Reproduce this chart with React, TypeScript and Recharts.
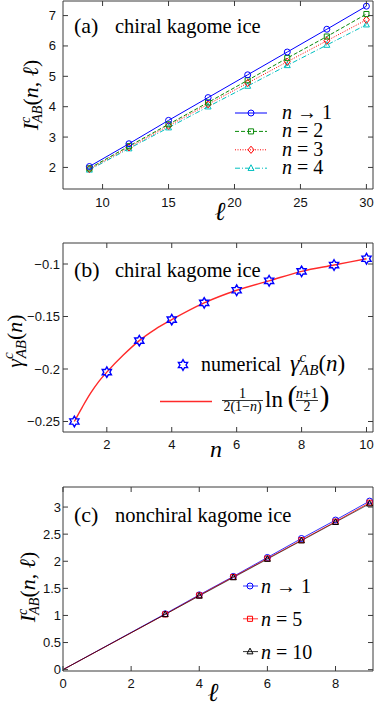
import React from 'react';
import { LineChart, Line, XAxis, YAxis, ComposedChart, Scatter } from 'recharts';

// (a) chiral kagome ice, I^c_AB(n, l) vs l
const lenA = [9, 12, 15, 18, 21, 24, 27, 30];
const aN1 = [2.03, 2.78, 3.55, 4.3, 5.05, 5.8, 6.55, 7.31];
const aN2 = [1.97, 2.7, 3.42, 4.14, 4.87, 5.6, 6.31, 7.05];
const aN3 = [1.95, 2.66, 3.37, 4.08, 4.78, 5.48, 6.17, 6.86];
const aN4 = [1.92, 2.62, 3.31, 4.0, 4.68, 5.36, 6.03, 6.7];
const aXTicks = [10, 15, 20, 25, 30];
const aYTicks = [2, 3, 4, 5, 6, 7];

// (b) gamma^c_AB(n)
const nVals = [1, 2, 3, 4, 5, 6, 7, 8, 9, 10];
const gammaNum = [-0.25, -0.203, -0.173, -0.153, -0.137, -0.125, -0.116, -0.107, -0.101, -0.095];
const curveN = [1, 1.25, 1.5, 1.75, 2, 2.5, 3, 3.5, 4, 5, 6, 7, 8, 9, 10];
const curveG = [-0.25, -0.236, -0.223, -0.212, -0.203, -0.187, -0.173, -0.162, -0.153, -0.137, -0.125, -0.116, -0.107, -0.101, -0.095];
const bXTicks = [2, 4, 6, 8, 10];
const bYTicks = [-0.25, -0.2, -0.15, -0.1];

// (c) nonchiral kagome ice
const lenC = [0, 3, 4, 5, 6, 7, 8, 9];
const cN1 = [0, 1.03, 1.38, 1.72, 2.07, 2.42, 2.76, 3.11];
const cN5 = [0, 1.02, 1.37, 1.71, 2.05, 2.39, 2.73, 3.08];
const cN10 = [0, 1.02, 1.36, 1.7, 2.04, 2.38, 2.72, 3.06];
const cXTicks = [0, 2, 4, 6, 8];
const cYTicks = [0, 0.5, 1, 1.5, 2, 2.5, 3];

const dataA = lenA.map((l, i) => ({ l, n1: aN1[i], n2: aN2[i], n3: aN3[i], n4: aN4[i] }));
const dataC = lenC.map((l, i) => ({ l, n1: cN1[i], n5: cN5[i], n10: cN10[i] }));
const numData = nVals.map((x, i) => ({ x, y: gammaNum[i] }));
const curveData = curveN.map((x, i) => ({ x, y: curveG[i] }));

const AXIS = '#3a3a3a';
const TL = 5;
const SANS = 'Liberation Sans, Arial, sans-serif';
const SERIF = 'Liberation Serif, Times New Roman, serif';
const BLUE = '#0000ff';
const GREEN = '#0a8a0a';
const RED = '#ff0000';
const CYAN = '#00bfbf';

const fmt = (v: number) => (v < 0 ? '\u2212' + Math.abs(v) : String(v));

type Side = 'bottom' | 'top' | 'left' | 'right';
// ly: gap from axis to bottom label baseline, lx: gap from axis to end of left label
const tick = (side: Side, ly = 17, lx = 7) => (p: any) => {
  const { x, y } = p;
  const v = p.payload.value;
  let line;
  if (side === 'bottom') line = <line x1={x} x2={x} y1={y} y2={y - TL} stroke={AXIS} />;
  else if (side === 'top') line = <line x1={x} x2={x} y1={y} y2={y + TL} stroke={AXIS} />;
  else if (side === 'left') line = <line x1={x} x2={x + TL} y1={y} y2={y} stroke={AXIS} />;
  else line = <line x1={x} x2={x - TL} y1={y} y2={y} stroke={AXIS} />;
  return (
    <g key={`${side}-${v}`}>
      {line}
      {side === 'bottom' && (
        <text x={x} y={y + ly} textAnchor="middle" fontSize={13} fontFamily={SANS} fill="#111">{fmt(v)}</text>
      )}
      {side === 'left' && (
        <text x={x - lx} y={y + 4.5} textAnchor="end" fontSize={13} fontFamily={SANS} fill="#111">{fmt(v)}</text>
      )}
    </g>
  );
};

type Shape = 'circle' | 'square' | 'diamond' | 'triangle' | 'hexagram';
function markerPath(shape: Shape, cx: number, cy: number, r: number) {
  if (shape === 'diamond') return `M${cx},${cy - r * 1.2}L${cx + r},${cy}L${cx},${cy + r * 1.2}L${cx - r},${cy}Z`;
  if (shape === 'triangle') return `M${cx},${cy - r * 1.15}L${cx + r},${cy + r * 0.75}L${cx - r},${cy + r * 0.75}Z`;
  if (shape === 'square') return `M${cx - r * 0.85},${cy - r * 0.85}h${r * 1.7}v${r * 1.7}h${-r * 1.7}Z`;
  if (shape === 'hexagram') {
    let d = '';
    for (let k = 0; k < 12; k++) {
      const a = ((-90 + 30 * k) * Math.PI) / 180;
      const rr = k % 2 === 0 ? r : r / Math.sqrt(3);
      d += `${k === 0 ? 'M' : 'L'}${cx + rr * Math.cos(a)},${cy + rr * Math.sin(a)}`;
    }
    return d + 'Z';
  }
  return `M${cx - r},${cy}a${r},${r} 0 1,0 ${2 * r},0a${r},${r} 0 1,0 ${-2 * r},0`;
}

function Marker({ shape, cx, cy, color, r = 3, sw = 1 }: any) {
  return <path d={markerPath(shape, cx, cy, r)} fill="none" stroke={color} strokeWidth={sw} />;
}

const dotFor = (shape: Shape, color: string, r = 3, skipFirst = false) => (p: any) => {
  if (p.cx == null || (skipFirst && p.index === 0)) return <g key={`d-${p.index}`} />;
  return <Marker key={`d-${p.index}`} shape={shape} cx={p.cx} cy={p.cy} color={color} r={r} />;
};

// box with inward ticks on all four sides; axes are 1px so they still render
function Axes({ xd, yd, xt, yt, xKey, ly, lx }: any) {
  return [
    <XAxis key="xb" xAxisId={0} type="number" dataKey={xKey} domain={xd} ticks={xt} interval={0} allowDataOverflow height={1} tickSize={0} tickMargin={0} axisLine={{ stroke: AXIS }} tickLine={false} tick={tick('bottom', ly, lx)} />,
    <XAxis key="xt" xAxisId="top" orientation="top" type="number" dataKey={xKey} domain={xd} ticks={xt} interval={0} allowDataOverflow height={1} tickSize={0} tickMargin={0} axisLine={{ stroke: AXIS }} tickLine={false} tick={tick('top')} />,
    <YAxis key="yl" yAxisId={0} type="number" domain={yd} ticks={yt} interval={0} allowDataOverflow width={1} tickSize={0} tickMargin={0} axisLine={{ stroke: AXIS }} tickLine={false} tick={tick('left', ly, lx)} />,
    <YAxis key="yr" yAxisId="right" orientation="right" type="number" domain={yd} ticks={yt} interval={0} allowDataOverflow width={1} tickSize={0} tickMargin={0} axisLine={{ stroke: AXIS }} tickLine={false} tick={tick('right')} />,
  ];
}

function IcabLabel({ x, y }: { x: number; y: number }) {
  return (
    <text transform={`translate(${x},${y}) rotate(-90)`} textAnchor="middle" fontFamily={SERIF} fontSize={22} fill="#000">
      <tspan fontStyle="italic">I</tspan>
      <tspan fontStyle="italic" fontSize={14} dy={-8}>c</tspan>
      <tspan fontStyle="italic" fontSize={14} dx={-6} dy={12}>AB</tspan>
      <tspan dy={-4}>(</tspan>
      <tspan fontStyle="italic">n</tspan>
      <tspan>, </tspan>
      <tspan fontStyle="italic">{'\u2113'}</tspan>
      <tspan>)</tspan>
    </text>
  );
}

function NLabel({ x, y, rhs }: { x: number; y: number; rhs: string }) {
  return (
    <text x={x} y={y} fontFamily={SERIF} fontSize={20} fill="#000">
      <tspan fontStyle="italic">n</tspan>
      <tspan>{rhs}</tspan>
    </text>
  );
}

export default function App() {
  const legA = [
    { shape: 'circle' as Shape, color: BLUE, dash: undefined, rhs: ' \u2192 1' },
    { shape: 'square' as Shape, color: GREEN, dash: '4 2', rhs: ' = 2' },
    { shape: 'diamond' as Shape, color: RED, dash: '1 1.5', rhs: ' = 3' },
    { shape: 'triangle' as Shape, color: CYAN, dash: '5 2 1 2', rhs: ' = 4' },
  ];
  const legC = [
    { shape: 'circle' as Shape, color: BLUE, rhs: ' \u2192 1' },
    { shape: 'square' as Shape, color: RED, rhs: ' = 5' },
    { shape: 'triangle' as Shape, color: '#000', rhs: ' = 10' },
  ];
  return (
    <div style={{ position: 'absolute', left: 0, top: 0, width: 374, height: 707, background: '#fff', overflow: 'hidden' }}>
      <div style={{ position: 'absolute', left: 0, top: 0 }}>
        <LineChart width={374} height={235} data={dataA} margin={{ top: 0, right: 0, bottom: 45, left: 62 }}>
          {Axes({ xd: [7, 30.5], yd: [1.29, 7.48], xt: aXTicks, yt: aYTicks, xKey: 'l', ly: 18, lx: 7 })}
          <Line dataKey="n4" stroke={CYAN} strokeWidth={1} strokeDasharray="5 2 1 2" dot={dotFor('triangle', CYAN)} isAnimationActive={false} />
          <Line dataKey="n3" stroke={RED} strokeWidth={1} strokeDasharray="1 1.5" dot={dotFor('diamond', RED)} isAnimationActive={false} />
          <Line dataKey="n2" stroke={GREEN} strokeWidth={1} strokeDasharray="4 2" dot={dotFor('square', GREEN)} isAnimationActive={false} />
          <Line dataKey="n1" stroke={BLUE} strokeWidth={1} dot={dotFor('circle', BLUE)} isAnimationActive={false} />
        </LineChart>
      </div>
      <div style={{ position: 'absolute', left: 0, top: 235 }}>
        <ComposedChart width={374} height={225} margin={{ top: 7, right: 0, bottom: 27, left: 62 }}>
          {Axes({ xd: [0.65, 10.2], yd: [-0.26, -0.08], xt: bXTicks, yt: bYTicks, xKey: 'x', ly: 16.5, lx: 3 })}
          <Line data={curveData} dataKey="y" type="monotone" stroke="#ff2a2a" strokeWidth={1.4} dot={false} isAnimationActive={false} />
          <Scatter data={numData} dataKey="y" shape={(p: any) => <Marker shape="hexagram" cx={p.cx} cy={p.cy} color={BLUE} r={5.3} sw={1.4} />} isAnimationActive={false} />
        </ComposedChart>
      </div>
      <div style={{ position: 'absolute', left: 0, top: 460 }}>
        <LineChart width={374} height={247} data={dataC} margin={{ top: 26, right: 0, bottom: 35, left: 62 }}>
          {Axes({ xd: [0, 9.1], yd: [-0.025, 3.37], xt: cXTicks, yt: cYTicks, xKey: 'l', ly: 16.5, lx: 2 })}
          <Line dataKey="n1" stroke={BLUE} strokeWidth={0.8} dot={dotFor('circle', BLUE, 3, true)} isAnimationActive={false} />
          <Line dataKey="n5" stroke={RED} strokeWidth={0.8} dot={dotFor('square', RED, 3, true)} isAnimationActive={false} />
          <Line dataKey="n10" stroke="#000" strokeWidth={0.6} dot={dotFor('triangle', '#000', 3, true)} isAnimationActive={false} />
        </LineChart>
      </div>

      <svg width={374} height={707} style={{ position: 'absolute', left: 0, top: 0, pointerEvents: 'none' }}>
        {/* panel (a) */}
        <text x={74} y={33} fontFamily={SERIF} fontSize={22}>(a)</text>
        <text x={115} y={33} fontFamily={SERIF} fontSize={20.5}>chiral kagome ice</text>
        <IcabLabel x={38} y={95} />
        <text x={220} y={220} textAnchor="middle" fontFamily={SERIF} fontStyle="italic" fontSize={26}>{'\u2113'}</text>
        {legA.map((e, i) => {
          const y = 113 + i * 18.4;
          return (
            <g key={i}>
              <line x1={235} x2={267} y1={y} y2={y} stroke={e.color} strokeDasharray={e.dash} />
              <Marker shape={e.shape} cx={251} cy={y} color={e.color} />
              <NLabel x={282} y={y + 6} rhs={e.rhs} />
            </g>
          );
        })}

        {/* panel (b) */}
        <text x={74} y={277} fontFamily={SERIF} fontSize={22}>(b)</text>
        <text x={115} y={277} fontFamily={SERIF} fontSize={20.5}>chiral kagome ice</text>
        <text transform="translate(22,341) rotate(-90)" textAnchor="middle" fontFamily={SERIF} fontSize={22}>
          <tspan fontStyle="italic">{'\u03b3'}</tspan>
          <tspan fontStyle="italic" fontSize={15} dy={-9}>c</tspan>
          <tspan fontStyle="italic" fontSize={15} dx={-6} dy={13}>AB</tspan>
          <tspan dy={-4}>(</tspan>
          <tspan fontStyle="italic">n</tspan>
          <tspan>)</tspan>
        </text>
        <text x={216} y={457} textAnchor="middle" fontFamily={SERIF} fontStyle="italic" fontSize={24}>n</text>
        <Marker shape="hexagram" cx={183} cy={365} color={BLUE} r={5.3} sw={1.4} />
        <text x={201} y={371} fontFamily={SERIF} fontSize={20}>
          <tspan>numerical</tspan>
          <tspan dx={9} fontStyle="italic" fontSize={24}>{'\u03b3'}</tspan>
          <tspan fontStyle="italic" fontSize={15} dy={-9}>c</tspan>
          <tspan fontStyle="italic" fontSize={15} dx={-6} dy={13}>AB</tspan>
          <tspan dy={-4} fontSize={23}>(</tspan>
          <tspan fontStyle="italic" fontSize={23}>n</tspan>
          <tspan fontSize={23}>)</tspan>
        </text>
        <line x1={160} x2={212} y1={401.5} y2={401.5} stroke="#ff2a2a" strokeWidth={1.4} />
        <g fontFamily={SERIF} fill="#000">
          <text x={242.5} y={398} textAnchor="middle" fontSize={14}>1</text>
          <line x1={222} x2={263} y1={400.5} y2={400.5} stroke="#000" strokeWidth={0.8} />
          <text x={242.5} y={411} textAnchor="middle" fontSize={14}>
            <tspan>2(1</tspan>
            <tspan>{'\u2212'}</tspan>
            <tspan fontStyle="italic">n</tspan>
            <tspan>)</tspan>
          </text>
          <text x={265} y={406.5} fontSize={23}>ln</text>
          <text x={287.5} y={406} fontSize={30}>(</text>
          <text x={307} y={398} textAnchor="middle" fontSize={14}>
            <tspan fontStyle="italic">n</tspan>
            <tspan>+1</tspan>
          </text>
          <line x1={296} x2={318} y1={400.5} y2={400.5} stroke="#000" strokeWidth={0.8} />
          <text x={307} y={411} textAnchor="middle" fontSize={14}>2</text>
          <text x={319.5} y={406} fontSize={30}>)</text>
        </g>

        {/* panel (c) */}
        <text x={74} y={522} fontFamily={SERIF} fontSize={22}>(c)</text>
        <text x={115} y={522} fontFamily={SERIF} fontSize={20.5}>nonchiral kagome ice</text>
        <IcabLabel x={35} y={587} />
        <text x={213} y={701} textAnchor="middle" fontFamily={SERIF} fontStyle="italic" fontSize={26}>{'\u2113'}</text>
        {legC.map((e, i) => {
          const y = 586 + i * 32.8;
          return (
            <g key={i}>
              <line x1={243} x2={258} y1={y} y2={y} stroke={e.color} strokeWidth={0.8} />
              <Marker shape={e.shape} cx={250} cy={y} color={e.color} />
              <NLabel x={261} y={y + 7} rhs={e.rhs} />
            </g>
          );
        })}
      </svg>
    </div>
  );
}
